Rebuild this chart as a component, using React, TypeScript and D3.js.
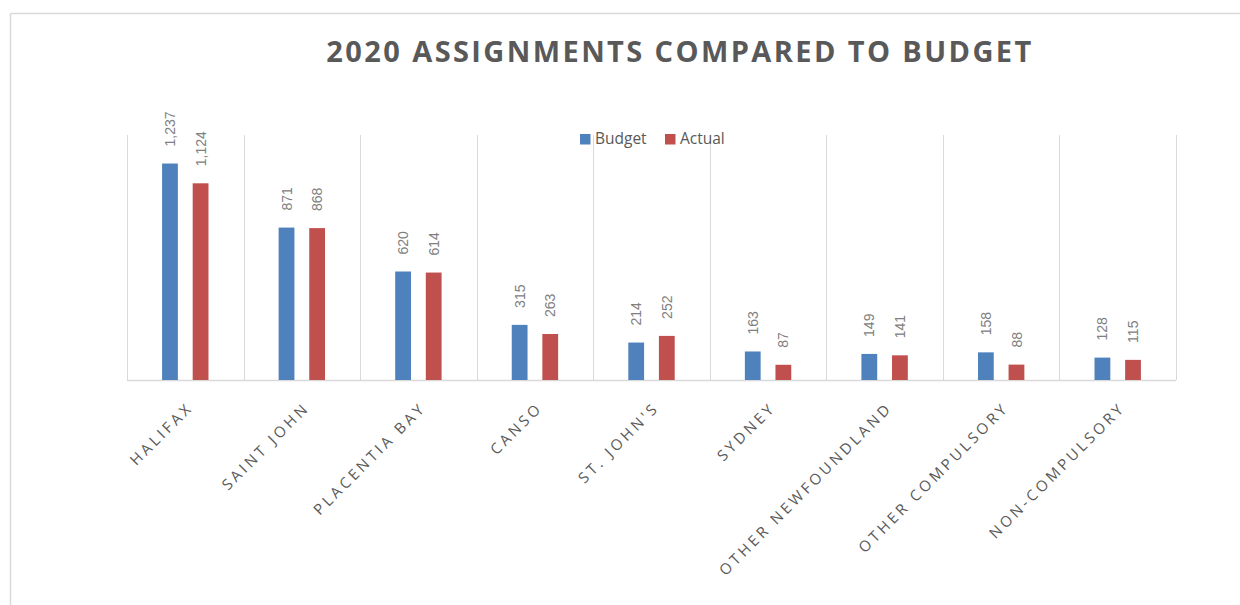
import React from "react";
import * as d3 from "d3";

const categories = [
  "HALIFAX",
  "SAINT JOHN",
  "PLACENTIA BAY",
  "CANSO",
  "ST. JOHN'S",
  "SYDNEY",
  "OTHER NEWFOUNDLAND",
  "OTHER COMPULSORY",
  "NON-COMPULSORY",
];
const seriesNames = ["Budget", "Actual"];
const budget = [1237, 871, 620, 315, 214, 163, 149, 158, 128];
const actual = [1124, 868, 614, 263, 252, 87, 141, 88, 115];
const seriesColors = ["#4F81BD", "#C0504D"];
const yMax = 1400;

const W = 1240;
const H = 605;
const plot = { left: 127, right: 1176, top: 135, bottom: 380 };

export default function App() {
  const x0 = d3.scaleBand<string>().domain(categories).range([plot.left, plot.right]).padding(0);
  const x1 = d3
    .scaleBand<string>()
    .domain(seriesNames)
    .range([0, x0.bandwidth()])
    .paddingInner(0.484)
    .paddingOuter(1.146);
  const y = d3.scaleLinear().domain([0, yMax]).range([plot.bottom, plot.top]);
  const values = [budget, actual];
  const fmt = d3.format(",");
  const bounds = categories.map((c) => x0(c)!).concat([plot.right]);

  return (
    <svg
      width={W}
      height={H}
      style={{ position: "fixed", left: 0, top: 0, background: "#fff" }}
      fontFamily="'Open Sans', sans-serif"
    >
      <rect x={0} y={0} width={W} height={H} fill="#fff" />
      <line x1={10.5} y1={13.5} x2={W} y2={13.5} stroke="#d9d9d9" strokeWidth={1.5} />
      <line x1={10.5} y1={13.5} x2={10.5} y2={H} stroke="#d9d9d9" strokeWidth={1.5} />

      <text
        x={680}
        y={62}
        textAnchor="middle"
        fontSize={29}
        fontWeight="bold"
        fill="#595959"
        letterSpacing={2.4}
      >
        2020 ASSIGNMENTS COMPARED TO BUDGET
      </text>

      {bounds.map((b, i) => (
        <line
          key={"g" + i}
          x1={Math.round(b) + 0.5}
          x2={Math.round(b) + 0.5}
          y1={plot.top}
          y2={plot.bottom}
          stroke="#d9d9d9"
          strokeWidth={1}
        />
      ))}
      <line
        x1={plot.left}
        x2={plot.right}
        y1={plot.bottom + 0.5}
        y2={plot.bottom + 0.5}
        stroke="#d9d9d9"
        strokeWidth={1.5}
      />

      {categories.map((c, i) => (
        <g key={c}>
          {seriesNames.map((s, j) => {
            const v = values[j][i];
            const bx = x0(c)! + x1(s)!;
            const cx = bx + x1.bandwidth() / 2;
            const top = y(v);
            return (
              <g key={s}>
                <rect
                  x={bx}
                  y={top}
                  width={x1.bandwidth()}
                  height={plot.bottom - top}
                  fill={seriesColors[j]}
                />
                <text
                  transform={`translate(${cx},${top - 17}) rotate(-90)`}
                  dy="0.36em"
                  fontSize={14}
                  fontFamily="'Liberation Sans', Arial, sans-serif"
                  fill="#808080"
                >
                  {fmt(v)}
                </text>
              </g>
            );
          })}
          <text
            transform={`translate(${x0(c)! + x0.bandwidth() / 2 + 1},${401}) rotate(-45)`}
            textAnchor="end"
            dy="0.72em"
            fontSize={15}
            letterSpacing={3.3}
            fill="#595959"
          >
            {c}
          </text>
        </g>
      ))}

      {seriesNames.map((s, j) => {
        const lx = j === 0 ? 580 : 665;
        return (
          <g key={"l" + s}>
            <rect x={lx} y={134} width={10.5} height={10.5} fill={seriesColors[j]} />
            <text x={lx + 15} y={144} fontSize={15.5} fill="#595959" fontFamily="'Open Sans', sans-serif">
              {s}
            </text>
          </g>
        );
      })}
    </svg>
  );
}
